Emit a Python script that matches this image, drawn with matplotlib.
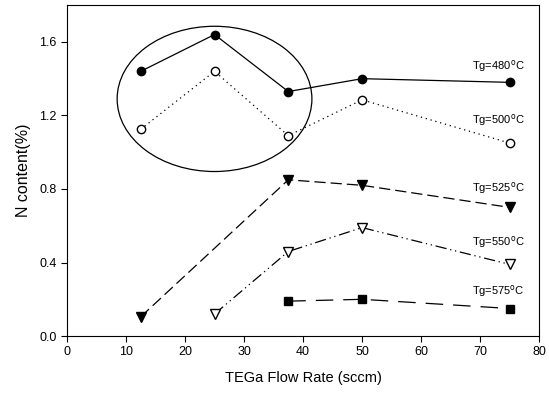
import matplotlib.pyplot as plt
from matplotlib.patches import Ellipse

plt.rcParams['font.family'] = ['Liberation Sans', 'DejaVu Sans']

x480 = [12.5, 25, 37.5, 50, 75]
y480 = [1.44, 1.64, 1.33, 1.40, 1.38]
x500 = [12.5, 25, 37.5, 50, 75]
y500 = [1.125, 1.44, 1.09, 1.285, 1.05]
x525 = [12.5, 37.5, 50, 75]
y525 = [0.105, 0.85, 0.82, 0.70]
x550 = [25, 37.5, 50, 75]
y550 = [0.12, 0.46, 0.59, 0.39]
x575 = [37.5, 50, 75]
y575 = [0.19, 0.20, 0.15]

labels = ['Tg=480$^{\\rm o}$C', 'Tg=500$^{\\rm o}$C', 'Tg=525$^{\\rm o}$C',
          'Tg=550$^{\\rm o}$C', 'Tg=575$^{\\rm o}$C']
label_y = [1.47, 1.175, 0.805, 0.51, 0.245]

fig = plt.figure(figsize=(5.49, 3.94), dpi=100)
ax = fig.add_axes([0.122, 0.147, 0.86, 0.84])

ms = 6
ax.plot(x480, y480, color='k', lw=0.9, marker='o', ms=ms, mfc='k', mec='k')
ax.plot(x500, y500, color='k', lw=0.9, ls=(0, (1, 3)), marker='o', ms=ms, mfc='white', mec='k')
ax.plot(x525, y525, color='k', lw=0.9, ls=(0, (9, 4)), marker='v', ms=ms + 1, mfc='k', mec='k')
ax.plot(x550, y550, color='k', lw=0.9, ls=(0, (9, 3, 1, 3, 1, 3)), marker='v', ms=ms + 1, mfc='white', mec='k')
ax.plot(x575, y575, color='k', lw=0.9, ls=(0, (14, 8)), marker='s', ms=ms, mfc='k', mec='k')

for lab, ly in zip(labels, label_y):
    ax.text(77.6, ly, lab, ha='right', va='center', fontsize=8)

# highlight of the low-flow region
ax.add_patch(Ellipse((25, 1.29), 33, 0.79, fill=False, ec='k', lw=0.9))

ax.set_xlim(0, 80)
ax.set_ylim(0, 1.8)
ax.set_xticks(range(0, 81, 10))
ax.set_yticks([0.0, 0.4, 0.8, 1.2, 1.6])
ax.set_yticklabels(['0.0', '0.4', '0.8', '1.2', '1.6'])
ax.tick_params(direction='out', labelsize=9, length=4)
ax.tick_params(top=False, right=False)
ax.set_xlabel('TEGa Flow Rate (sccm)', fontsize=10.5, labelpad=9)
ax.set_ylabel('N content(%)', fontsize=11.5, labelpad=6)

fig.savefig('out.png', dpi=100)
